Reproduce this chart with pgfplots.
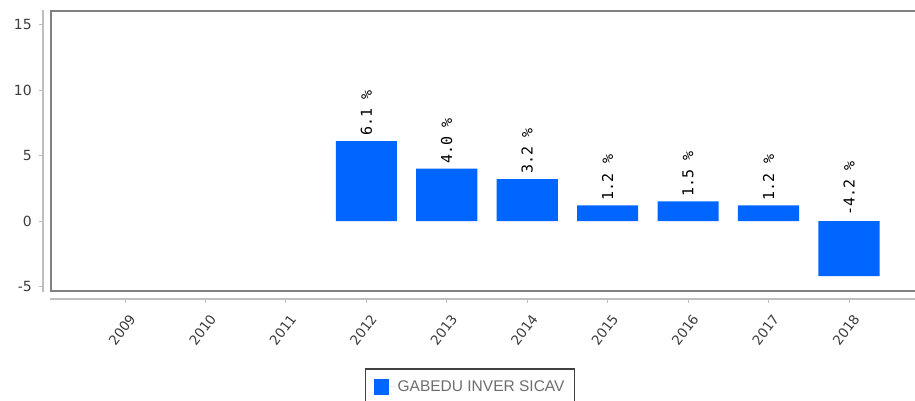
\documentclass[border=0pt]{standalone}
\usepackage{pgfplots}
\pgfplotsset{compat=1.18}
\usepackage{fontspec}
\setmainfont{DejaVu Sans}
\newfontfamily\monofont{DejaVu Sans Mono}
\newfontfamily\legfont{Liberation Sans}
\definecolor{barblue}{RGB}{0,102,255}
\definecolor{framegray}{RGB}{128,128,128}
\definecolor{axisgray}{RGB}{190,190,190}
\definecolor{labgray}{RGB}{60,60,60}
\definecolor{leggray}{RGB}{110,110,110}
\begin{document}
\begin{tikzpicture}[x=1pt,y=1pt]
\begin{axis}[
  at={(51pt,-291pt)}, anchor=south west,
  width=872pt, height=280pt, scale only axis,
  xmin=-0.92, xmax=9.92, ymin=-5.34, ymax=16.03,
  axis line style={framegray, line width=2pt},
  xtick={0,...,9},
  xticklabels={2009,2010,2011,2012,2013,2014,2015,2016,2017,2018},
  ytick={-5,0,5,10,15},
  major tick length=0pt,
  /pgf/number format/assume math mode=true,
  tick label style={font=\fontsize{14}{16}\selectfont, text=labgray},
  yticklabel style={anchor=east, inner sep=0pt, xshift=-19pt},
  xticklabel style={font=\fontsize{13.5}{15}\selectfont, inner sep=0pt, xshift=-3pt, yshift=-39pt, rotate=53, anchor=center},
  clip=false,
  legend style={at={(axis description cs:0.36,-0.275)}, anchor=north west,
    draw=black!75, line width=1.5pt, inner xsep=8pt, inner ysep=10pt,
    font=\legfont\fontsize{15.5}{17}\selectfont, text=leggray},
  legend cell align=left,
]
\addplot[ybar, bar width=0.76, fill=barblue, draw=none,
  legend image code/.code={\fill[barblue] (0pt,-8pt) rectangle (15pt,8pt); \path (15pt,0pt) -- (22pt,0pt);}]
  coordinates {(3,6.1) (4,4.0) (5,3.2) (6,1.2) (7,1.5) (8,1.2) (9,-4.2)};
\addlegendentry{GABEDU INVER SICAV}
\addplot[draw=none, mark=none, forget plot, nodes near coords,
  point meta=explicit symbolic,
  every node near coord/.style={rotate=90, anchor=west, inner ysep=0pt, inner xsep=5pt,
    font=\monofont\fontsize{15}{17}\selectfont, text=black}]
  coordinates {(3,6.1) [6.1 \%] (4,4.0) [4.0 \%] (5,3.2) [3.2 \%] (6,1.2) [1.2 \%]
    (7,1.5) [1.5 \%] (8,1.2) [1.2 \%] (9,0) [-4.2 \%]};
% detached axis lines with ticks
\draw[axisgray, line width=1.5pt] ([xshift=-8pt]axis cs:-0.92,-5.42) -- ([xshift=-8pt]axis cs:-0.92,16.1);
\pgfplotsinvokeforeach{-5,0,5,10,15}{
  \draw[axisgray, line width=1pt] ([xshift=-8pt]axis cs:-0.92,#1) -- ++(-4pt,0pt);
}
\draw[axisgray, line width=1.5pt] ([yshift=-8pt]axis cs:-0.93,-5.34) -- ([yshift=-8pt]axis cs:9.9,-5.34);
\pgfplotsinvokeforeach{0,...,9}{
  \draw[axisgray, line width=1pt] ([yshift=-8pt]axis cs:#1,-5.34) -- ++(0pt,-4pt);
}
\end{axis}
\pgfresetboundingbox
\path[use as bounding box] (0pt,-401pt) rectangle (915pt,0pt);
\end{tikzpicture}
\end{document}
